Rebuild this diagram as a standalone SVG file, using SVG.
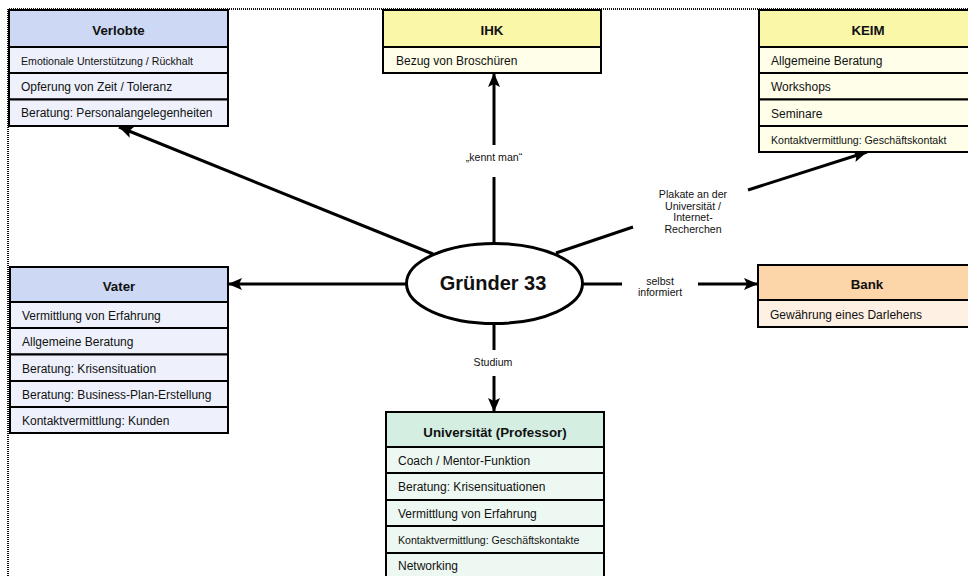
<svg xmlns="http://www.w3.org/2000/svg" width="968" height="576" viewBox="0 0 968 576">
<style>
text{font-family:"Liberation Sans",Arial,sans-serif;fill:#111}
.hd{font-size:13.3px;font-weight:bold;text-anchor:middle}
.rw{font-size:12px}
.sm{font-size:10.6px}
.lb{font-size:10.6px;text-anchor:middle}
.box{stroke:#000;stroke-width:2}
.blueH{fill:#CCD8F4}.blueR{fill:#EEF1FC}
.yelH{fill:#FAF7A9}.yelR{fill:#FEFEE9}
.orH{fill:#FCD5A9}.orR{fill:#FEF0E2}
.grH{fill:#D4EEE1}.grR{fill:#EEF8F2}
.con{stroke:#000;stroke-width:3;fill:none}
.arr{marker-end:url(#ah)}
</style>
<defs>
<marker id="ah" markerUnits="userSpaceOnUse" markerWidth="16" markerHeight="14" refX="14" refY="6" orient="auto">
<path d="M0,0 L14,6 L0,12 L3,6 Z" fill="#000"/>
</marker>
</defs>
<rect width="968" height="576" fill="#fff"/>
<g id="border">
<path d="M8,576 L8,9 L968,9" fill="none" stroke="#111" stroke-width="2" stroke-dasharray="1 1"/>
</g>
<g id="connectors">
<line class="con" x1="494" y1="243" x2="494" y2="177"/>
<line class="con arr" x1="494" y1="145" x2="494" y2="73"/>
<line class="con arr" x1="433" y1="254" x2="119" y2="127"/>
<line class="con arr" x1="406" y1="284" x2="228" y2="284"/>
<line class="con" x1="556" y1="253" x2="633" y2="227"/>
<line class="con arr" x1="748" y1="190" x2="867" y2="152"/>
<line class="con" x1="583" y1="284" x2="622" y2="284"/>
<line class="con arr" x1="698" y1="284" x2="758" y2="284"/>
<line class="con" x1="494" y1="324" x2="494" y2="350"/>
<line class="con arr" x1="494" y1="376" x2="494" y2="412"/>
<text class="lb" x="494" y="161">„kennt man“</text>
<text class="lb" x="693" y="198">Plakate an der</text>
<text class="lb" x="693" y="209.5">Universität /</text>
<text class="lb" x="693" y="221">Internet-</text>
<text class="lb" x="693" y="232.5">Recherchen</text>
<text class="lb" x="660" y="285">selbst</text>
<text class="lb" x="660" y="296">informiert</text>
<text class="lb" x="493" y="366">Studium</text>
</g>
<g id="gruender">
<ellipse cx="494.5" cy="283.5" rx="88" ry="40" fill="#fff" stroke="#000" stroke-width="3"/>
<text x="493" y="290" style="font-size:20px;font-weight:bold;text-anchor:middle">Gründer 33</text>
</g>
<g id="verlobte">
<rect class="box blueH" x="9" y="10" width="219" height="37"/>
<rect class="box blueR" x="9" y="47" width="219" height="26"/>
<rect class="box blueR" x="9" y="73" width="219" height="26.5"/>
<rect class="box blueR" x="9" y="99.5" width="219" height="26.5"/>
<text class="hd" x="118.5" y="35">Verlobte</text>
<text class="sm" x="21" y="64.5">Emotionale Unterstützung / Rückhalt</text>
<text class="rw" x="21" y="91">Opferung von Zeit / Toleranz</text>
<text class="rw" x="21" y="117">Beratung: Personalangelegenheiten</text>
</g>
<g id="ihk">
<rect class="box yelH" x="383" y="10" width="218" height="37"/>
<rect class="box yelR" x="383" y="47" width="218" height="26"/>
<text class="hd" x="492" y="35">IHK</text>
<text class="rw" x="396" y="64.5">Bezug von Broschüren</text>
</g>
<g id="keim">
<rect class="box yelH" x="759" y="10" width="218" height="37"/>
<rect class="box yelR" x="759" y="47" width="218" height="26"/>
<rect class="box yelR" x="759" y="73" width="218" height="26.5"/>
<rect class="box yelR" x="759" y="99.5" width="218" height="26.5"/>
<rect class="box yelR" x="759" y="126" width="218" height="26"/>
<text class="hd" x="868" y="35">KEIM</text>
<text class="rw" x="771" y="65">Allgemeine Beratung</text>
<text class="rw" x="771" y="91">Workshops</text>
<text class="rw" x="771" y="117.5">Seminare</text>
<text class="sm" x="771" y="143.5">Kontaktvermittlung: Geschäftskontakt</text>
</g>
<g id="vater">
<rect class="box blueH" x="10" y="267" width="218" height="35"/>
<rect class="box blueR" x="10" y="302" width="218" height="26"/>
<rect class="box blueR" x="10" y="328" width="218" height="26.5"/>
<rect class="box blueR" x="10" y="354.5" width="218" height="26.5"/>
<rect class="box blueR" x="10" y="381" width="218" height="26"/>
<rect class="box blueR" x="10" y="407" width="218" height="26"/>
<text class="hd" x="119" y="291">Vater</text>
<text class="rw" x="22" y="320">Vermittlung von Erfahrung</text>
<text class="rw" x="22" y="346">Allgemeine Beratung</text>
<text class="rw" x="22" y="372.5">Beratung: Krisensituation</text>
<text class="rw" x="22" y="399">Beratung: Business-Plan-Erstellung</text>
<text class="rw" x="22" y="425">Kontaktvermittlung: Kunden</text>
</g>
<g id="bank">
<rect class="box orH" x="758" y="265" width="218" height="35"/>
<rect class="box orR" x="758" y="300" width="218" height="27"/>
<text class="hd" x="867" y="289">Bank</text>
<text class="rw" x="770" y="318.5">Gewährung eines Darlehens</text>
</g>
<g id="universitaet">
<rect class="box grH" x="386" y="412" width="218" height="35"/>
<rect class="box grR" x="386" y="447" width="218" height="26"/>
<rect class="box grR" x="386" y="473" width="218" height="27"/>
<rect class="box grR" x="386" y="500" width="218" height="26"/>
<rect class="box grR" x="386" y="526" width="218" height="27"/>
<rect class="box grR" x="386" y="553" width="218" height="26"/>
<text class="hd" x="495" y="437">Universität (Professor)</text>
<text class="rw" x="398" y="465">Coach / Mentor-Funktion</text>
<text class="rw" x="398" y="491">Beratung: Krisensituationen</text>
<text class="rw" x="398" y="517.5">Vermittlung von Erfahrung</text>
<text class="sm" x="398" y="543.5">Kontaktvermittlung: Geschäftskontakte</text>
<text class="rw" x="398" y="570">Networking</text>
</g>
</svg>
